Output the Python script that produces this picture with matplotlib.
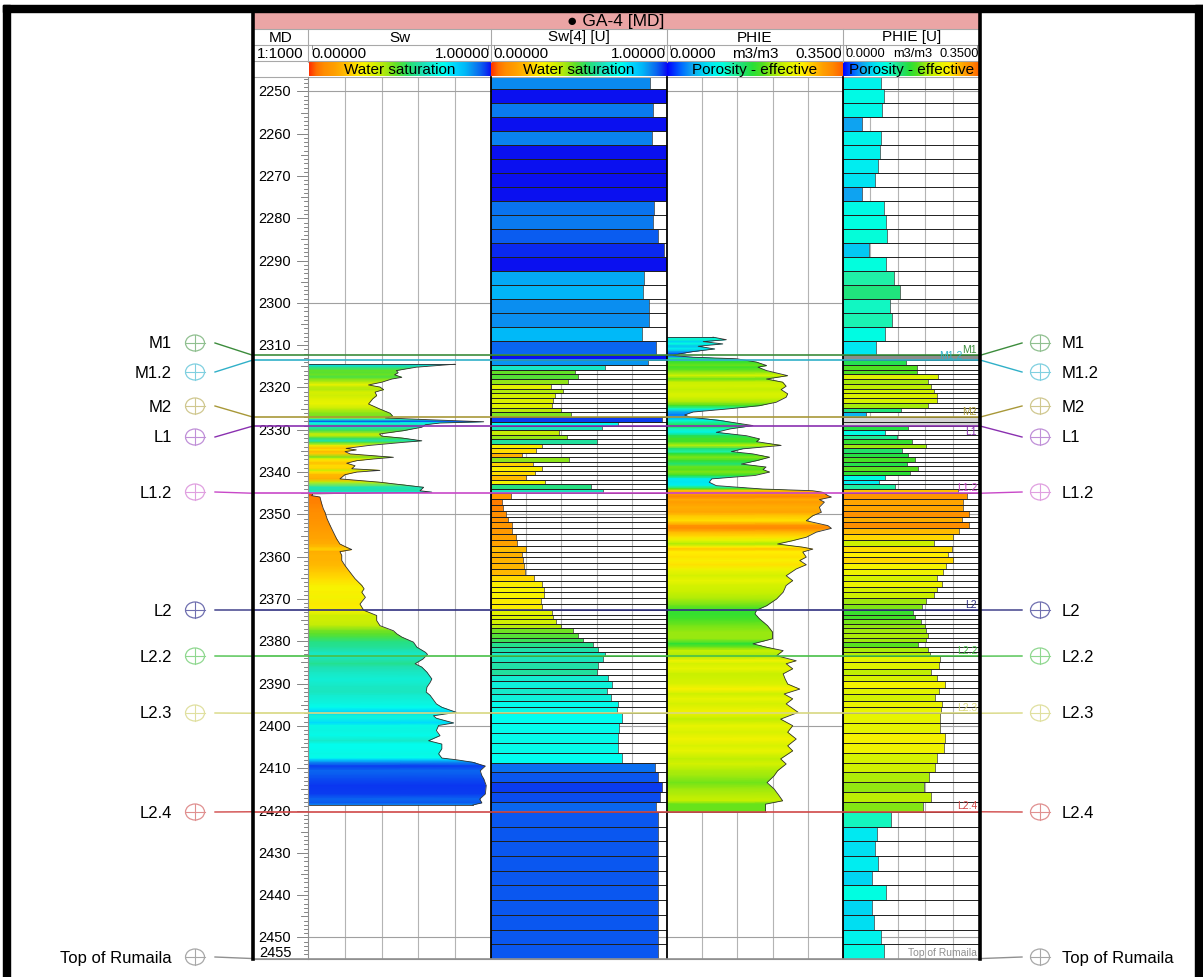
import numpy as np
import matplotlib
matplotlib.use('Agg')
import matplotlib.pyplot as plt
from matplotlib.colors import LinearSegmentedColormap, Normalize
from matplotlib.patches import Rectangle, Ellipse

plt.rcParams['font.family'] = ['Liberation Sans', 'DejaVu Sans']

# ------------------------------------------------------------------ data
well_title = "\u25CF GA-4 [MD]"
track_names = ["MD", "Sw", "Sw[4] [U]", "PHIE", "PHIE [U]"]
scale_left = ["", "0.00000", "0.00000", "0.0000", "0.0000"]
scale_mid = ["1:1000", "", "", "m3/m3", "m3/m3"]
scale_right = ["", "1.00000", "1.00000", "0.3500", "0.3500"]
colorbar_names = ["", "Water saturation", "Water saturation",
                  "Porosity - effective", "Porosity - effective"]
depth_labels = list(range(2250, 2451, 10))
bottom_label = "2455"
DEPTH_TOP, DEPTH_BASE = 2246.6, 2455.1

tops_names = ["M1", "M1.2", "M2", "L1", "L1.2", "L2", "L2.2", "L2.3", "L2.4",
              "Top of Rumaila"]
tops_depths = [2312.4, 2313.5, 2327.0, 2329.1, 2345.0, 2372.6, 2383.5,
               2397.0, 2420.3, 2455.0]

# continuous Sw curve (depth, value)
sw_depth = [2314.5, 2315.2, 2316.0, 2316.5, 2317.0, 2317.6, 2318.0, 2318.75,
            2319.4, 2319.9, 2320.5, 2321.1, 2321.9, 2322.7, 2323.9, 2325.1,
            2326.1, 2326.8, 2327.2, 2327.6, 2328.1, 2328.4, 2328.8, 2329.4,
            2330.2, 2331.0, 2331.5, 2332.0, 2332.6, 2333.0, 2333.7, 2334.4,
            2334.75, 2335.15, 2335.7, 2336.5, 2336.9, 2337.3, 2337.9, 2338.5,
            2339.2, 2339.6, 2340.0, 2340.6, 2341.6, 2342.4, 2343.6, 2344.4,
            2344.75, 2345.15, 2345.55, 2345.9, 2347.5, 2348.7, 2349.5, 2351.1,
            2352.6, 2354.2, 2355.8, 2357.0, 2357.8, 2358.3, 2358.8, 2359.7,
            2360.9, 2362.1, 2363.7, 2365.2, 2366.8, 2367.6, 2368.4, 2369.6,
            2371.2, 2372.65, 2373.9, 2375.1, 2376.3, 2377.5, 2378.25, 2379.0,
            2380.2, 2381.4, 2382.6, 2383.1, 2384.2, 2385.3, 2386.1, 2387.3,
            2388.9, 2389.7, 2390.85, 2392.0, 2392.8, 2394.8, 2395.6, 2396.8,
            2397.6, 2398.2, 2399.3, 2399.9, 2401.1, 2402.3, 2403.5, 2404.3,
            2405.4, 2406.6, 2407.6, 2408.0, 2408.6, 2409.5, 2410.6, 2411.75,
            2412.5, 2414.1, 2416.1, 2417.3, 2418.2, 2418.7]
sw_value = [0.80, 0.59, 0.48, 0.49, 0.47, 0.51, 0.455, 0.40,
            0.327, 0.39, 0.41, 0.363, 0.372, 0.35, 0.327, 0.39,
            0.446, 0.46, 0.42, 0.65, 0.96, 0.72, 0.64, 0.62,
            0.52, 0.387, 0.40, 0.52, 0.62, 0.51, 0.33, 0.204,
            0.26, 0.198, 0.226, 0.464, 0.354, 0.262, 0.207, 0.253,
            0.235, 0.39, 0.262, 0.198, 0.17, 0.39, 0.63, 0.61,
            0.675, 0.02, 0.015, 0.06, 0.07, 0.079, 0.088, 0.10,
            0.116, 0.134, 0.152, 0.17, 0.207, 0.235, 0.17, 0.18,
            0.18, 0.198, 0.226, 0.253, 0.29, 0.303, 0.29, 0.31,
            0.28, 0.30, 0.372, 0.372, 0.39, 0.464, 0.483, 0.51,
            0.574, 0.593, 0.64, 0.651, 0.626, 0.583, 0.62, 0.648,
            0.675, 0.666, 0.648, 0.644, 0.666, 0.70, 0.73, 0.81,
            0.684, 0.70, 0.795, 0.712, 0.70, 0.72, 0.657, 0.73,
            0.73, 0.712, 0.73, 0.81, 0.90, 0.969, 0.941, 0.95,
            0.96, 0.974, 0.969, 0.938, 0.95, 0.90]

# continuous PHIE curve (depth, value m3/m3)
phie_depth = [2308.1, 2308.7, 2309.15, 2309.7, 2310.25, 2310.9, 2311.5, 2312.05,
              2312.45, 2312.85, 2313.2, 2314.0, 2314.8, 2315.2, 2316.0, 2317.2,
              2318.0, 2318.75, 2319.7, 2320.5, 2321.5, 2322.3, 2323.5, 2324.3,
              2325.1, 2325.8, 2326.5, 2327.0, 2327.8, 2329.0, 2329.8, 2330.6,
              2331.4, 2332.15, 2332.8, 2333.7, 2334.5, 2335.15, 2335.7, 2336.5,
              2337.3, 2338.1, 2338.8, 2339.4, 2340.0, 2340.8, 2341.6, 2342.4,
              2343.2, 2344.0, 2344.4, 2344.8, 2345.55, 2345.9, 2346.5, 2347.1,
              2348.3, 2349.5, 2350.3, 2351.5, 2352.65, 2353.3, 2354.2, 2355.4,
              2356.2, 2357.0, 2357.75, 2358.2, 2358.9, 2360.1, 2360.9, 2361.9,
              2362.9, 2364.5, 2365.65, 2366.8, 2368.4, 2370.0, 2371.6, 2372.65,
              2373.5, 2374.7, 2376.3, 2377.85, 2379.4, 2380.6, 2381.4, 2382.2,
              2383.4, 2384.6, 2385.3, 2386.5, 2387.7, 2388.9, 2390.1, 2391.3,
              2392.45, 2393.6, 2394.8, 2396.8, 2398.4, 2399.95, 2401.5, 2403.1,
              2404.7, 2405.9, 2407.8, 2409.0, 2410.6, 2411.8, 2413.4, 2414.9,
              2416.5, 2417.7, 2418.5, 2419.8, 2420.3]
phie_value = [0.0915, 0.118, 0.072, 0.111, 0.062, 0.095, 0.052, 0.025,
              0.012, 0.052, 0.138, 0.178, 0.198, 0.181, 0.198, 0.24,
              0.198, 0.23, 0.237, 0.227, 0.24, 0.237, 0.217, 0.184,
              0.118, 0.052, 0.035, 0.045, 0.105, 0.171, 0.125, 0.098,
              0.158, 0.184, 0.178, 0.227, 0.151, 0.128, 0.171, 0.204,
              0.178, 0.148, 0.197, 0.191, 0.204, 0.175, 0.089, 0.084,
              0.098, 0.19, 0.29, 0.31, 0.32, 0.327, 0.303, 0.313,
              0.303, 0.307, 0.29, 0.277, 0.32, 0.327, 0.297, 0.277,
              0.25, 0.22, 0.27, 0.29, 0.27, 0.277, 0.264, 0.277,
              0.257, 0.237, 0.25, 0.237, 0.231, 0.218, 0.198, 0.178,
              0.175, 0.184, 0.20, 0.21, 0.21, 0.171, 0.198, 0.231,
              0.218, 0.257, 0.237, 0.25, 0.231, 0.235, 0.24, 0.264,
              0.233, 0.25, 0.237, 0.261, 0.226, 0.25, 0.24, 0.257,
              0.24, 0.25, 0.226, 0.237, 0.22, 0.213, 0.199, 0.213,
              0.223, 0.23, 0.196, 0.196, 0.196]

# upscaled (blocked) logs: zone boundaries and block values
zone_bounds = [2246.2, 2312.4, 2313.5, 2327.0, 2329.1, 2345.0, 2372.6,
               2383.5, 2397.0, 2420.3, 2455.1]
sw4_blocks = [
    [0.905, 1.0, 0.92, 1.0, 0.914, 1.0, 1.0, 1.0, 1.0, 0.928,
     0.92, 0.949, 0.983, 1.0, 0.872, 0.863, 0.90, 0.90, 0.856, 0.9375],
    [1.0],
    [0.894, 0.65, 0.477, 0.496, 0.44, 0.34, 0.41, 0.364, 0.354, 0.345, 0.396, 0.455],
    [0.97, 0.72],
    [0.63, 0.385, 0.434, 0.60, 0.29, 0.253, 0.175, 0.444, 0.238, 0.29,
     0.251, 0.20, 0.309, 0.568, 0.634],
    [0.112, 0.06, 0.07, 0.083, 0.098, 0.117, 0.121, 0.142, 0.146, 0.20,
     0.178, 0.18, 0.187, 0.193, 0.246, 0.288, 0.30, 0.30, 0.284, 0.288],
    [0.345, 0.354, 0.37, 0.40, 0.468, 0.496, 0.525, 0.58, 0.61, 0.65],
    [0.634, 0.61, 0.60, 0.667, 0.686, 0.657, 0.68, 0.723, 0.714],
    [0.742, 0.73, 0.723, 0.723, 0.742, 0.93, 0.95, 0.97, 0.96, 0.9375],
    [0.95, 0.95, 0.95, 0.95, 0.95, 0.95, 0.95, 0.95, 0.95, 0.95],
]
phieu_blocks = [
    [0.0965, 0.105, 0.0999, 0.0487, 0.098, 0.0956, 0.0896, 0.0828, 0.0487, 0.105,
     0.109, 0.113, 0.0657, 0.111, 0.13, 0.145, 0.121, 0.126, 0.107, 0.085],
    [np.nan],
    [0.16, 0.19, 0.19, 0.243, 0.216, 0.226, 0.233, 0.241, 0.239, 0.216, 0.147, 0.058],
    [np.nan, np.nan],
    [0.166, 0.108, 0.137, 0.177, 0.213, 0.152, 0.166, 0.185, 0.164, 0.192,
     0.171, 0.108, 0.091, 0.132, 0.295],
    [0.318, 0.307, 0.307, 0.322, 0.303, 0.323, 0.296, 0.282, 0.233, 0.279,
     0.269, 0.282, 0.262, 0.256, 0.239, 0.254, 0.239, 0.233, 0.213, 0.203],
    [0.179, 0.184, 0.20, 0.209, 0.213, 0.218, 0.213, 0.192, 0.218, 0.222],
    [0.248, 0.245, 0.226, 0.239, 0.261, 0.246, 0.236, 0.252, 0.25],
    [0.248, 0.248, 0.261, 0.257, 0.239, 0.235, 0.219, 0.208, 0.225, 0.204],
    [0.122, 0.087, 0.0815, 0.09, 0.075, 0.109, 0.075, 0.08, 0.097, 0.106],
]

# ------------------------------------------------------------------ styles
W, H = 1203, 978
Y0, Y1 = 78, 960
TRACKS = [(253, 308), (309, 491), (491, 667), (667, 843), (843, 980)]
tops_colors = ['#3C8C3C', '#30B0C8', '#A89838', '#8A30B0', '#C848C8',
               '#303080', '#48C048', '#D8D880', '#D04848', '#909090']
tops_sym_colors = ['#90C090', '#80D0E0', '#D0C890', '#C090D8', '#E0A0E0',
                   '#7070B0', '#90D890', '#E0E0A0', '#E09090', '#A8A8A8']
label_y = [344, 373, 407, 438, 493, 611, 657, 714, 813, 958]

sw_cmap = LinearSegmentedColormap.from_list('sw', [
    (0.00, '#FF3000'), (0.04, '#FF7000'), (0.08, '#FF8C00'), (0.14, '#FFA000'),
    (0.20, '#FFBC00'), (0.25, '#FFDC00'), (0.30, '#F8F400'), (0.36, '#D8F000'),
    (0.42, '#A8E810'), (0.48, '#60E028'), (0.55, '#28E070'), (0.62, '#20E0B0'),
    (0.68, '#10F0D8'), (0.74, '#00FFF0'), (0.80, '#00D8FF'), (0.86, '#00B8F8'),
    (0.90, '#0A90F0'), (0.94, '#0A68F0'), (0.97, '#0A40F0'), (1.00, '#0A10F0')])
phi_cmap = LinearSegmentedColormap.from_list('phi', [
    (0.0 / 0.35, '#0000FF'), (0.03 / 0.35, '#0070FF'), (0.05 / 0.35, '#10A8F0'),
    (0.07 / 0.35, '#00D0F4'), (0.09 / 0.35, '#00EEF0'), (0.11 / 0.35, '#00FFE0'),
    (0.13 / 0.35, '#20F0A8'), (0.15 / 0.35, '#20E070'), (0.17 / 0.35, '#28E038'),
    (0.19 / 0.35, '#50E020'), (0.21 / 0.35, '#98E810'), (0.23 / 0.35, '#C8F000'),
    (0.25 / 0.35, '#E8F400'), (0.27 / 0.35, '#FFF000'), (0.29 / 0.35, '#FFC800'),
    (0.31 / 0.35, '#FFA000'), (0.33 / 0.35, '#FF8800'), (1.0, '#FF6000')])
sw_norm = Normalize(0, 1)
phi_norm = Normalize(0, 0.35)

fig = plt.figure(figsize=(W / 100, H / 100), dpi=100)
fig.patch.set_facecolor('white')


def rect(x0, x1, y0, y1):
    return [x0 / W, 1 - y1 / H, (x1 - x0) / W, (y1 - y0) / H]


axes = []
xmaxs = [1, 1, 1, 0.35, 0.35]
for (x0, x1), xm in zip(TRACKS, xmaxs):
    ax = fig.add_axes(rect(x0, x1, Y0, Y1), zorder=1)
    ax.set_xlim(0, xm)
    ax.set_ylim(DEPTH_BASE, DEPTH_TOP)
    ax.axis('off')
    axes.append(ax)
ax_md, ax_sw, ax_sw4, ax_phie, ax_phieu = axes

grid_c = '#B4B4B4'
for ax, xm in zip(axes[1:], xmaxs[1:]):
    for k in range(1, 5):
        ax.axvline(xm * k / 5, color=grid_c, lw=0.8, zorder=0)
    for d in range(2250, 2451, 50):
        ax.axhline(d, color='#A0A0A0', lw=0.8, zorder=0)

# MD track ticks and labels
ytr = ax_md.get_yaxis_transform()
for d in range(2247, 2456):
    if d % 10 == 0:
        x0 = 0.80
    elif d % 5 == 0:
        x0 = 0.87
    else:
        x0 = 0.93
    ax_md.plot([x0, 1.0], [d, d], color='#707070', lw=0.6, transform=ytr)
for d in depth_labels:
    ax_md.text(0.40, d, str(d), transform=ytr, ha='center', va='center',
               fontsize=10.5)
ax_md.text(0.40, 2453.4, bottom_label, transform=ytr, ha='center', va='center',
           fontsize=10.5)


def filled_curve(ax, depth, vals, cmap, norm, xm):
    depth = np.asarray(depth)
    vals = np.asarray(vals)
    poly = ax.fill_betweenx(depth, 0, vals, facecolor='none', edgecolor='none')
    C = np.column_stack([vals, vals])
    mesh = ax.pcolormesh([0, xm], depth, C, cmap=cmap, norm=norm,
                         shading='gouraud', zorder=2)
    mesh.set_clip_path(poly.get_paths()[0], ax.transData)
    ax.plot(vals, depth, color='#303030', lw=0.6, zorder=3)
    ax.plot([0, vals[0]], [depth[0], depth[0]], color='#303030', lw=0.6, zorder=3)
    ax.plot([0, vals[-1]], [depth[-1], depth[-1]], color='#303030', lw=0.6, zorder=3)


filled_curve(ax_sw, sw_depth, sw_value, sw_cmap, sw_norm, 1.0)
filled_curve(ax_phie, phie_depth, phie_value, phi_cmap, phi_norm, 0.35)


def blocked(ax, blocks, cmap, norm, xm, nan_colors):
    for zi, vals in enumerate(blocks):
        edges = np.linspace(zone_bounds[zi], zone_bounds[zi + 1], len(vals) + 1)
        centers = 0.5 * (edges[:-1] + edges[1:])
        thk = np.diff(edges)
        for c, t, v in zip(centers, thk, vals):
            if np.isnan(v):
                ax.barh(c, xm, height=t, left=0, color=nan_colors[zi],
                        edgecolor='none', zorder=2)
            else:
                ax.barh(c, v, height=t, left=0, color=cmap(norm(v)),
                        edgecolor='#404040', linewidth=0.5, zorder=2)
        ax.hlines(edges, 0, xm, color='#202020', lw=0.7, zorder=3)


blocked(ax_sw4, sw4_blocks, sw_cmap, sw_norm, 1.0, {})
blocked(ax_phieu, phieu_blocks, phi_cmap, phi_norm, 0.35,
        {1: '#8C8C8C', 3: '#D4D4D4'})

# ------------------------------------------------------------------ overlay
ov = fig.add_axes([0, 0, 1, 1], zorder=10)
ov.patch.set_alpha(0)

# header colour bars
grad = np.linspace(0, 1, 256)[None, :]
for i, (x0, x1) in enumerate(TRACKS):
    if i == 0:
        continue
    cm = sw_cmap if i <= 2 else phi_cmap
    ov.imshow(grad, extent=[x0, x1, 77, 63], aspect='auto', cmap=cm,
              interpolation='bilinear', zorder=1)
ov.set_xlim(0, W)
ov.set_ylim(H, 0)
ov.axis('off')

# outer black frame
ov.add_patch(Rectangle((3, 6), W - 3, 7, color='black', zorder=5))
ov.add_patch(Rectangle((3, 6), 7, H - 6, color='black', zorder=5))
ov.add_patch(Rectangle((1195, 6), 8, H - 6, color='black', zorder=5))

# pink title bar
ov.add_patch(Rectangle((253, 13), 980 - 253, 17, facecolor='#EBA5A5',
                       edgecolor='none', zorder=2))
ov.text(616, 21.5, well_title, ha='center', va='center', fontsize=12.5, zorder=6)

# header grid
hc = '#A8A8A8'
for y in [30, 46, 62, 78]:
    ov.plot([253, 980], [y, y], color=hc, lw=0.8, zorder=3)
for x in [308, 491, 667, 843]:
    ov.plot([x, x], [30, 63], color=hc, lw=0.8, zorder=3)

scale_fs = [11, 11, 11, 11, 9.3]
for i, (x0, x1) in enumerate(TRACKS):
    xc = 0.5 * (x0 + x1)
    ov.text(xc, 37.5, track_names[i], ha='center', va='center', fontsize=11,
            zorder=6)
    fs = scale_fs[i]
    if scale_left[i]:
        ov.text(x0 + 2, 54, scale_left[i], ha='left', va='center', fontsize=fs,
                zorder=6)
        ov.text(x1 - 1, 54, scale_right[i], ha='right', va='center',
                fontsize=fs, zorder=6)
        ov.plot([x0 + 3, x0 + 3], [46, 50], color='#909090', lw=0.7, zorder=6)
        ov.plot([x1 - 3, x1 - 3], [46, 50], color='#909090', lw=0.7, zorder=6)
    if scale_mid[i]:
        ov.text(xc + (1 if i == 4 else 0), 54, scale_mid[i], ha='center',
                va='center', fontsize=fs, zorder=6)
    if colorbar_names[i]:
        ov.text(xc, 70, colorbar_names[i], ha='center', va='center',
                fontsize=11, zorder=6)

# track borders in data area
ov.plot([308, 308], [78, Y1], color='#909090', lw=0.8, zorder=4)
for x in [491, 667, 843]:
    ov.plot([x, x], [78, Y1], color='black', lw=1.3, zorder=4)
ov.plot([253, 253], [13, Y1], color='black', lw=2.6, zorder=6)
ov.plot([980, 980], [13, Y1], color='black', lw=2.6, zorder=6)
ov.plot([253, 980], [Y1, Y1], color='#909090', lw=0.8, zorder=4)


def depth_to_px(d):
    disp = ax_md.transData.transform((0, d))
    return ov.transData.inverted().transform(disp)[1]


# small in-track labels: right edge x for each top
small_x = [977, 963, 977, 977, 977, 977, 977, 977, 977, 977]
small_dy = [-1.5, -0.5, -1.5, 0.5, -1.5, -1.5, -1.5, -1.5, -1.5, -1.5]

# formation tops
for name, d, c, sc, ly, sx, sdy in zip(tops_names, tops_depths, tops_colors,
                                       tops_sym_colors, label_y, small_x,
                                       small_dy):
    yd = depth_to_px(d)
    ov.plot([253, 980], [yd, yd], color=c, lw=1.2, zorder=5)
    ov.plot([215, 253], [ly, yd], color=c, lw=1.0, zorder=5)
    ov.plot([980, 1022], [yd, ly], color=c, lw=1.0, zorder=5)
    for xs in (195, 1040):
        ov.add_patch(Ellipse((xs, ly), 19, 16, fill=False, edgecolor=sc,
                             lw=0.9, zorder=5))
        ov.plot([xs - 9.5, xs + 9.5], [ly, ly], color=sc, lw=0.8, zorder=5)
        ov.plot([xs, xs], [ly - 8, ly + 8], color=sc, lw=0.8, zorder=5)
    ov.text(172, ly, name, ha='right', va='center', fontsize=12, zorder=6)
    ov.text(1062, ly, name, ha='left', va='center', fontsize=12, zorder=6)
    ov.text(sx, yd + sdy, name, ha='right',
            va='top' if sdy > 0 else 'bottom', fontsize=7.5,
            color=c, zorder=6)

fig.savefig('out.png', dpi=100, facecolor='white')
